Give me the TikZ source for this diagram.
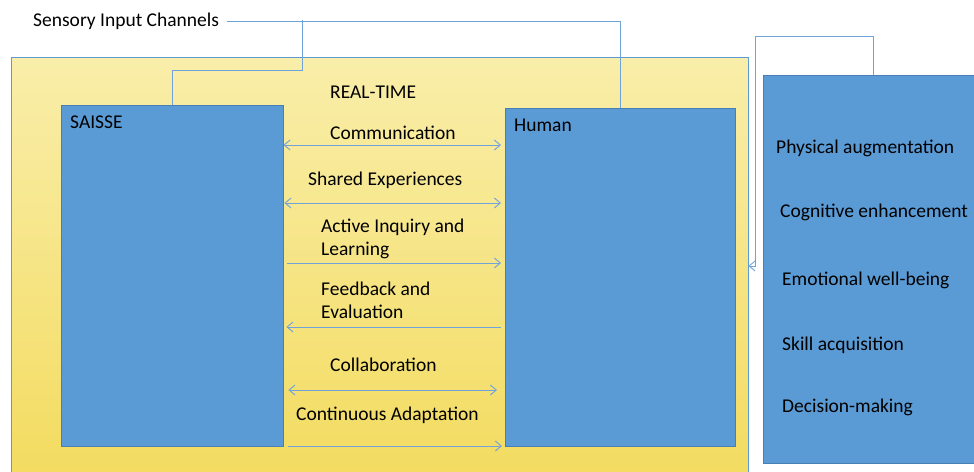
\documentclass[tikz,border=0pt]{standalone}
\usepackage{fontspec}
\setmainfont{Carlito}
\usetikzlibrary{arrows.meta}
\definecolor{boxblue}{HTML}{5B9BD5}
\definecolor{edgeblue}{HTML}{4A7FB5}
\definecolor{lineblue}{HTML}{6FA3DA}
\definecolor{paleyellow}{HTML}{F9EEAA}
\definecolor{deepyellow}{HTML}{F3DB5E}
\tikzset{
  txt/.style={font=\fontsize{19.5}{23}\selectfont, inner sep=0, anchor=west, yshift=-1.5pt},
  agent/.style={draw=edgeblue, fill=boxblue, anchor=north west, inner sep=0},
  link/.style={draw=lineblue, line width=0.9pt},
  flow/.style={link, {Straight Barb[length=6pt,width=10pt]}-{Straight Barb[length=6pt,width=10pt]}},
  fwd/.style={link, -{Straight Barb[length=6pt,width=10pt]}},
}
\begin{document}
\begin{tikzpicture}[x=1pt,y=-1pt]
\useasboundingbox (0,0) rectangle (974,471);
% real-time frame and the three boxes
\node[draw=boxblue, top color=paleyellow, bottom color=deepyellow, anchor=north west, inner sep=0,
  minimum width=737pt, minimum height=430pt] (rt) at (11,57) {};
\node[agent, minimum width=222pt, minimum height=341pt] (saisse) at (61,105) {};
\node[agent, minimum width=230pt, minimum height=338pt] (human) at (505,108) {};
\node[agent, minimum width=220pt, minimum height=388pt] (effects) at (763,75) {};
% titles
\node[txt] (sensory) at (33,20) {Sensory Input Channels};
\node[txt] (realtime) at (330,91) {REAL-TIME};
\node[txt] (saissetitle) at (70,121) {SAISSE};
\node[txt] (humantitle) at (514,124) {Human};
% interaction labels
\node[txt] (comm) at (330,131) {Communication};
\node[txt] (shared) at (308,179) {Shared Experiences};
\node[txt, align=left] (inquiry) at (321,237.5) {Active Inquiry and\\Learning};
\node[txt, align=left] (feedback) at (321,298.5) {Feedback and\\Evaluation};
\node[txt] (collab) at (330,363) {Collaboration};
\node[txt] (adapt) at (296,414) {Continuous Adaptation};
% outcomes
\node[txt] (physical) at (776,147) {Physical augmentation};
\node[txt] (cognitive) at (780,211) {Cognitive enhancement};
\node[txt] (emotional) at (782,279) {Emotional well-being};
\node[txt] (skill) at (782,344) {Skill acquisition};
\node[txt] (decision) at (782,406) {Decision-making};
% sensory input lines
\coordinate (split) at (302,20);
\draw[link] ([xshift=8pt]sensory.east) -| (human.north);
\draw[link] (split) -- (302,70) -| (saisse.north);
% feedback from outcomes
\coordinate (bend) at (755,36);
\draw[fwd] (effects.north) |- (bend) -- (755,266) -- (rt.east |- 0,266);
% arrows between SAISSE and Human
\draw[flow] (saisse.east |- 0,145) -- ([xshift=-4pt]human.west |- 0,145);
\draw[flow] ([xshift=1pt]saisse.east |- 0,203) -- ([xshift=-4pt]human.west |- 0,203);
\draw[fwd] ([xshift=4pt]saisse.east |- 0,263) -- ([xshift=-4pt]human.west |- 0,263);
\draw[fwd] ([xshift=-4pt]human.west |- 0,327) -- ([xshift=3pt]saisse.east |- 0,327);
\draw[flow] ([xshift=5pt]saisse.east |- 0,390) -- ([xshift=-8pt]human.west |- 0,390);
\draw[fwd] ([xshift=5pt]saisse.east |- 0,446) -- ([xshift=-3pt]human.west |- 0,446);
\end{tikzpicture}
\end{document}
